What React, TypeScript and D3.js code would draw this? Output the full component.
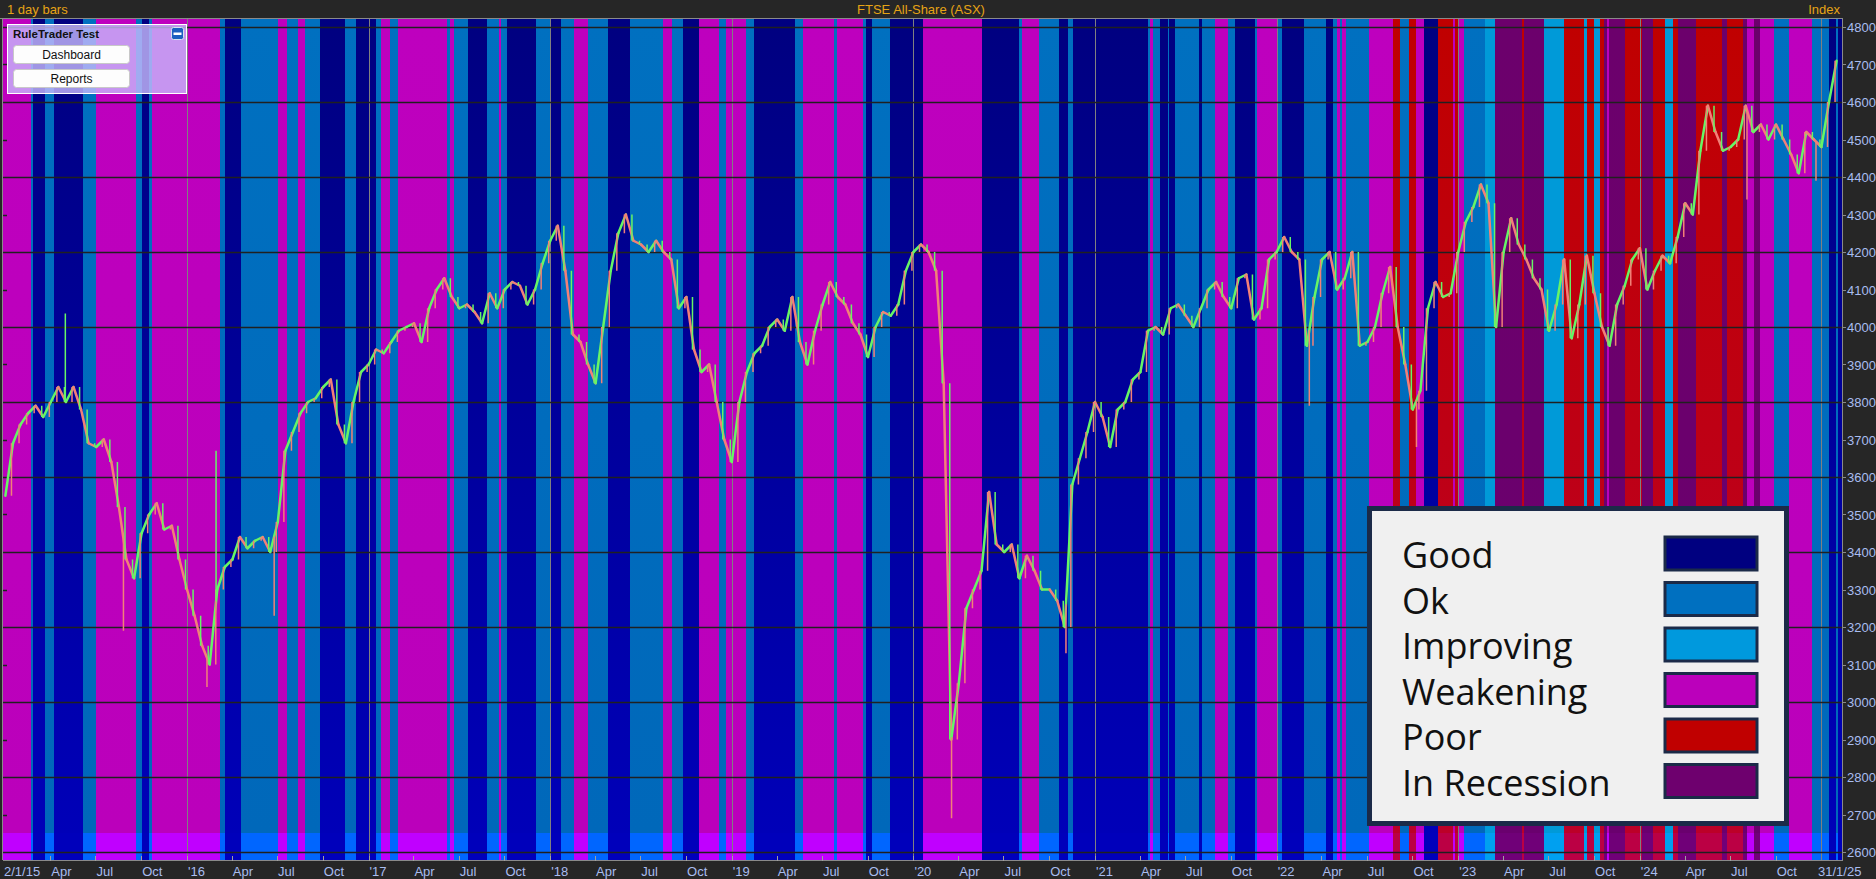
import React, { useEffect, useRef } from 'react';
import * as d3 from 'd3';

type State = 'G' | 'O' | 'I' | 'W' | 'P' | 'R';

// FTSE All-Share closes, two readings a month (1st and 16th)
const price2015 = [3550, 3690, 3740, 3770, 3790, 3760, 3800, 3840, 3800, 3840, 3780, 3690, 3680, 3700, 3640, 3520, 3380, 3330, 3450, 3500, 3530, 3460, 3470, 3380];
const price2016 = [3300, 3230, 3150, 3100, 3300, 3360, 3380, 3440, 3410, 3430, 3440, 3400, 3480, 3670, 3720, 3770, 3800, 3810, 3840, 3860, 3740, 3690, 3800, 3880];
const price2017 = [3900, 3940, 3930, 3960, 3990, 4000, 4010, 3960, 4050, 4100, 4130, 4080, 4050, 4060, 4040, 4010, 4090, 4050, 4100, 4120, 4110, 4060, 4100, 4170];
const price2018 = [4230, 4270, 4150, 3980, 3960, 3900, 3850, 4000, 4150, 4250, 4300, 4230, 4220, 4200, 4230, 4200, 4180, 4050, 4080, 3940, 3880, 3900, 3800, 3700];
const price2019 = [3640, 3800, 3880, 3930, 3950, 4000, 4020, 3990, 4080, 3960, 3900, 3990, 4060, 4120, 4080, 4060, 4010, 3980, 3920, 4000, 4040, 4030, 4060, 4150];
const price2020 = [4200, 4220, 4200, 4150, 3850, 2900, 3050, 3250, 3300, 3350, 3560, 3420, 3400, 3420, 3330, 3390, 3350, 3300, 3300, 3270, 3200, 3580, 3650, 3720];
const price2021 = [3800, 3760, 3680, 3780, 3800, 3860, 3880, 3990, 4000, 3980, 4050, 4060, 4030, 4000, 4050, 4100, 4120, 4080, 4050, 4130, 4140, 4020, 4050, 4180];
const price2022 = [4200, 4240, 4200, 4180, 3950, 4080, 4180, 4200, 4100, 4130, 4200, 3950, 3960, 4000, 4090, 4160, 4000, 3900, 3780, 3830, 4050, 4120, 4080, 4090];
const price2023 = [4200, 4280, 4320, 4380, 4330, 4000, 4200, 4290, 4220, 4180, 4130, 4100, 3990, 4060, 4180, 3970, 4060, 4190, 4090, 4000, 3950, 4060, 4110, 4180];
const price2024 = [4210, 4100, 4150, 4190, 4170, 4240, 4330, 4300, 4470, 4590, 4520, 4470, 4480, 4500, 4590, 4520, 4540, 4500, 4540, 4500, 4460, 4410, 4520, 4500];
const price2025 = [4480, 4600, 4710];

const priceYears: [number, number[]][] = [
  [2015, price2015], [2016, price2016], [2017, price2017], [2018, price2018], [2019, price2019],
  [2020, price2020], [2021, price2021], [2022, price2022], [2023, price2023], [2024, price2024], [2025, price2025],
];

// single days that stick out of the bars (decimal year, value)
const priceSpikes: [number, number][] = [
  [2015.33, 4036], [2015.65, 3190], [2016.11, 3040], [2016.16, 3670], [2016.48, 3230],
  [2020.21, 2690], [2020.84, 3130], [2022.18, 3790], [2022.77, 3680], [2024.59, 4340], [2024.97, 4390],
];

// regime bands: start (decimal year) and state, each one runs until the next start
const regimeBands: [number, State][] = [
  [2015.00, 'W'], [2015.14, 'O'], [2015.15, 'G'], [2015.22, 'O'], [2015.27, 'G'], [2015.43, 'O'], [2015.50, 'W'],
  [2015.72, 'O'], [2015.75, 'G'], [2015.79, 'O'], [2015.81, 'W'],
  [2016.18, 'O'], [2016.21, 'G'], [2016.30, 'O'], [2016.50, 'W'], [2016.55, 'O'], [2016.61, 'W'], [2016.65, 'O'],
  [2016.73, 'G'], [2016.87, 'O'], [2016.93, 'G'],
  [2017.04, 'O'], [2017.07, 'W'], [2017.12, 'O'], [2017.16, 'W'], [2017.43, 'O'], [2017.45, 'W'], [2017.47, 'O'],
  [2017.55, 'G'], [2017.65, 'O'], [2017.72, 'W'], [2017.73, 'O'], [2017.76, 'G'], [2017.92, 'O'],
  [2018.00, 'G'], [2018.06, 'O'], [2018.13, 'W'], [2018.21, 'O'], [2018.32, 'G'], [2018.44, 'O'], [2018.62, 'W'],
  [2018.67, 'O'], [2018.73, 'G'], [2018.82, 'W'], [2018.93, 'O'], [2018.97, 'W'],
  [2019.08, 'O'], [2019.12, 'G'], [2019.35, 'O'], [2019.39, 'W'], [2019.56, 'O'], [2019.58, 'W'], [2019.72, 'O'],
  [2019.74, 'G'], [2019.77, 'O'], [2019.87, 'G'],
  [2020.05, 'W'], [2020.38, 'G'], [2020.58, 'O'], [2020.60, 'W'], [2020.69, 'O'], [2020.80, 'G'], [2020.85, 'O'], [2020.88, 'G'],
  [2021.29, 'O'], [2021.30, 'W'], [2021.32, 'O'], [2021.36, 'G'], [2021.40, 'O'], [2021.41, 'G'], [2021.44, 'O'],
  [2021.57, 'G'], [2021.59, 'O'], [2021.66, 'W'], [2021.73, 'O'], [2021.77, 'G'], [2021.88, 'O'], [2021.89, 'W'],
  [2022.00, 'O'], [2022.03, 'G'], [2022.15, 'O'], [2022.27, 'G'], [2022.31, 'O'], [2022.33, 'W'], [2022.35, 'O'],
  [2022.36, 'W'], [2022.38, 'O'], [2022.51, 'W'], [2022.64, 'P'], [2022.68, 'O'], [2022.73, 'P'], [2022.77, 'W'],
  [2022.81, 'G'], [2022.89, 'P'], [2022.97, 'W'], [2022.98, 'P'],
  [2023.00, 'W'], [2023.03, 'O'], [2023.15, 'I'], [2023.20, 'R'], [2023.35, 'P'], [2023.36, 'R'], [2023.47, 'I'],
  [2023.58, 'P'], [2023.69, 'I'], [2023.71, 'P'], [2023.75, 'I'], [2023.78, 'P'], [2023.80, 'R'], [2023.82, 'W'],
  [2023.83, 'R'], [2023.92, 'P'],
  [2024.01, 'R'], [2024.07, 'P'], [2024.14, 'I'], [2024.18, 'P'], [2024.21, 'R'], [2024.31, 'P'], [2024.45, 'R'],
  [2024.48, 'P'], [2024.57, 'R'], [2024.59, 'W'], [2024.63, 'R'], [2024.66, 'W'], [2024.74, 'O'], [2024.82, 'W'],
  [2024.95, 'O'], [2025.04, 'G'], [2025.08, 'O'], [2025.09, 'G'],
];
const regimeEnd = 2025.1;

const legendLabels = ['Good', 'Ok', 'Improving', 'Weakening', 'Poor', 'In Recession'];
const legendStates: State[] = ['G', 'O', 'I', 'W', 'P', 'R'];

const monthLabels = ['Apr', 'Jul', 'Oct'];
const yearLabels = ["'16", "'17", "'18", "'19", "'20", "'21", "'22", "'23", "'24"];
const firstLabel = '2/1/15';
const lastLabel = '31/1/25';

// band colours, top of the pane to bottom, and the strip along the bottom
const bandTop: Record<State, string> = { G: '#000080', O: '#0070c0', I: '#009ad8', W: '#be00be', P: '#c00000', R: '#6c006c' };
const bandBottom: Record<State, string> = { G: '#0000b8', O: '#0068ba', I: '#009ad8', W: '#bb00bb', P: '#bc0028', R: '#6a006e' };
const stripColor: Record<State, string> = { G: '#0000bb', O: '#0066ff', I: '#00a0f0', W: '#c000ff', P: '#bb0044', R: '#700078' };
const legendColor: Record<State, string> = { G: '#000080', O: '#0070c0', I: '#0099dd', W: '#bb00bb', P: '#c00000', R: '#6e006e' };

const W = 1876;
const H = 879;

const App: React.FC = () => {
  const svgRef = useRef<SVGSVGElement>(null);

  useEffect(() => {
    if (!svgRef.current) return;
    document.body.style.margin = '0';

    const svg = d3.select(svgRef.current);
    svg.selectAll('*').remove();

    const left = 3, right = 1842, top = 19, bottom = 860, stripTop = 833;
    const axisFont = 'Liberation Sans, Arial, sans-serif';
    const axisColor = '#a9bdf0';
    const headColor = '#e6a415';

    const x = d3.scaleLinear().domain([2015, regimeEnd]).range([5.4, 1839.6]);
    const y = d3.scaleLinear().domain([2600, 4800]).range([852, 27]);

    // frame background
    svg.append('rect').attr('width', W).attr('height', H).attr('fill', '#262626');

    const defs = svg.append('defs');
    defs.append('clipPath').attr('id', 'pane')
      .append('rect').attr('x', left).attr('y', top).attr('width', right - left).attr('height', bottom - top);
    (Object.keys(bandTop) as State[]).forEach(s => {
      const grad = defs.append('linearGradient').attr('id', 'band-' + s)
        .attr('gradientUnits', 'userSpaceOnUse')
        .attr('x1', 0).attr('x2', 0).attr('y1', top).attr('y2', stripTop);
      grad.append('stop').attr('offset', 0).attr('stop-color', bandTop[s]);
      grad.append('stop').attr('offset', 1).attr('stop-color', bandBottom[s]);
    });

    const pane = svg.append('g').attr('clip-path', 'url(#pane)');

    // regime bands
    const bands = regimeBands.map(([start, s], i) => ({
      x0: i === 0 ? left : x(start),
      x1: i < regimeBands.length - 1 ? x(regimeBands[i + 1][0]) : right,
      s,
    }));
    pane.append('g').attr('shape-rendering', 'crispEdges')
      .selectAll('rect').data(bands).join('rect')
      .attr('x', d => d.x0).attr('y', top)
      .attr('width', d => Math.max(1, d.x1 - d.x0)).attr('height', stripTop - top)
      .attr('fill', d => `url(#band-${d.s})`);
    pane.append('g').attr('shape-rendering', 'crispEdges')
      .selectAll('rect').data(bands).join('rect')
      .attr('x', d => d.x0).attr('y', stripTop)
      .attr('width', d => Math.max(1, d.x1 - d.x0)).attr('height', bottom - stripTop)
      .attr('fill', d => stripColor[d.s]);

    // year lines
    pane.append('g').selectAll('line').data(d3.range(2016, 2026)).join('line')
      .attr('x1', d => Math.round(x(d)) + 0.5).attr('x2', d => Math.round(x(d)) + 0.5)
      .attr('y1', top).attr('y2', bottom)
      .attr('stroke', '#808080').attr('stroke-width', 1);

    // price grid
    pane.append('g').selectAll('line').data(d3.range(2600, 4801, 200)).join('line')
      .attr('x1', left).attr('x2', right)
      .attr('y1', d => Math.round(y(d)) + 0.5).attr('y2', d => Math.round(y(d)) + 0.5)
      .attr('stroke', '#202020').attr('stroke-width', 1.6);

    // price bars: a vertical bar per reading spanning the move from the last one, joined by the path
    const pts: [number, number][] = [];
    priceYears.forEach(([yr, vals]) => vals.forEach((v, k) => pts.push([yr + k / 24, v])));
    const upColor = '#66f566';
    const downColor = '#f28078';
    const moves = d3.pairs(pts);
    const priceG = pane.append('g');
    priceG.selectAll('line.seg').data(moves).join('line')
      .attr('class', 'seg')
      .attr('x1', d => x(d[0][0])).attr('y1', d => y(d[0][1]))
      .attr('x2', d => x(d[1][0])).attr('y2', d => y(d[1][1]))
      .attr('stroke', d => (d[1][1] >= d[0][1] ? upColor : downColor))
      .attr('stroke-width', 2.5).attr('stroke-linecap', 'round');
    priceG.selectAll('line.bar').data(moves).join('line')
      .attr('class', 'bar')
      .attr('x1', d => x(d[1][0]) - 1.5).attr('x2', d => x(d[1][0]) - 1.5)
      .attr('y1', d => y(d[0][1])).attr('y2', d => y(d[1][1]))
      .attr('stroke', d => (d[1][1] >= d[0][1] ? downColor : upColor))
      .attr('stroke-width', 1.5);

    const bis = d3.bisector((d: [number, number]) => d[0]).right;
    pane.append('g').selectAll('line').data(priceSpikes).join('line')
      .each(function (d) {
        const i = Math.min(Math.max(bis(pts, d[0]), 1), pts.length - 1);
        const a = pts[i - 1], b = pts[i];
        const base = a[1] + (b[1] - a[1]) * (d[0] - a[0]) / (b[0] - a[0]);
        d3.select(this)
          .attr('x1', x(d[0])).attr('x2', x(d[0]))
          .attr('y1', y(base)).attr('y2', y(d[1]))
          .attr('stroke', d[1] > base ? upColor : downColor);
      })
      .attr('stroke-width', 1.5);

    // frame lines
    const frame = svg.append('g').attr('stroke', '#8a8a8a').attr('stroke-width', 1).attr('fill', 'none');
    frame.append('line').attr('x1', 0).attr('x2', right + 0.5).attr('y1', top - 0.5).attr('y2', top - 0.5);
    frame.append('line').attr('x1', left - 0.5).attr('x2', left - 0.5).attr('y1', top).attr('y2', bottom);
    frame.append('line').attr('x1', right + 0.5).attr('x2', right + 0.5).attr('y1', top - 1).attr('y2', bottom + 1);
    frame.append('line').attr('x1', left).attr('x2', right + 1).attr('y1', bottom + 0.5).attr('y2', bottom + 0.5);

    // header
    const head = svg.append('g').attr('font-family', axisFont).attr('font-size', 13).attr('fill', headColor);
    head.append('text').attr('x', 7).attr('y', 14).text('1 day bars');
    head.append('text').attr('x', 921).attr('y', 14).attr('text-anchor', 'middle').text('FTSE All-Share (ASX)');
    head.append('text').attr('x', 1840).attr('y', 14).attr('text-anchor', 'end').text('Index');

    // right axis
    const yAxis = svg.append('g').attr('font-family', axisFont).attr('font-size', 13).attr('fill', axisColor);
    const yTicks = d3.range(2600, 4801, 100);
    yAxis.selectAll('text').data(yTicks).join('text')
      .attr('x', 1847).attr('y', d => y(d) + 5).text(d => String(d));
    svg.append('g').selectAll('line').data(yTicks).join('line')
      .attr('x1', right).attr('x2', right + 4)
      .attr('y1', d => Math.round(y(d)) + 0.5).attr('y2', d => Math.round(y(d)) + 0.5)
      .attr('stroke', '#8a8a8a');
    svg.append('g').selectAll('line').data(d3.range(2700, 4800, 200)).join('line')
      .attr('x1', left).attr('x2', left + 4)
      .attr('y1', d => Math.round(y(d)) + 0.5).attr('y2', d => Math.round(y(d)) + 0.5)
      .attr('stroke', '#202020').attr('stroke-width', 1.5);

    // time axis
    const xTicks: { t: number; label: string }[] = [{ t: 2015.005, label: firstLabel }];
    d3.range(2015, 2025).forEach((yr, i) => {
      if (i > 0) xTicks.push({ t: yr, label: yearLabels[i - 1] });
      [0.247, 0.496, 0.748].forEach((f, j) => xTicks.push({ t: yr + f, label: monthLabels[j] }));
    });
    svg.append('g').selectAll('line').data(xTicks.slice(1)).join('line')
      .attr('x1', d => Math.round(x(d.t)) + 0.5).attr('x2', d => Math.round(x(d.t)) + 0.5)
      .attr('y1', bottom - 4).attr('y2', bottom + 1)
      .attr('stroke', '#a0a0a0');
    const xAxis = svg.append('g').attr('font-family', axisFont).attr('font-size', 13).attr('fill', axisColor);
    xAxis.selectAll('text').data(xTicks).join('text')
      .attr('x', (d, i) => (i === 0 ? 4 : x(d.t) + 1)).attr('y', 876).text(d => d.label);
    xAxis.append('text').attr('x', 1818).attr('y', 876).text(lastLabel);

    // legend box
    const lg = svg.append('g');
    lg.append('rect').attr('x', 1369.5).attr('y', 508.5).attr('width', 417).attr('height', 315)
      .attr('fill', '#f0f0f0').attr('stroke', '#1b2a48').attr('stroke-width', 5);
    legendLabels.forEach((label, i) => {
      const base = 568 + i * 45.5;
      lg.append('text').attr('x', 1402).attr('y', base)
        .attr('font-family', 'Open Sans, sans-serif').attr('font-size', 36).attr('fill', '#111')
        .text(label);
      lg.append('rect').attr('x', 1665).attr('y', base - 31).attr('width', 92).attr('height', 33)
        .attr('fill', legendColor[legendStates[i]]).attr('stroke', '#1b2a48').attr('stroke-width', 3);
    });

    // RuleTrader panel
    const panel = svg.append('g').attr('font-family', axisFont);
    panel.append('rect').attr('x', 7.5).attr('y', 24.5).attr('width', 179).attr('height', 69)
      .attr('fill', 'rgb(200,186,252)').attr('fill-opacity', 0.8).attr('stroke', '#ffffff');
    panel.append('text').attr('x', 13).attr('y', 38).attr('font-size', 11.5).attr('font-weight', 'bold')
      .attr('fill', '#111').text('RuleTrader Test');
    panel.append('rect').attr('x', 171.5).attr('y', 27.5).attr('width', 12).attr('height', 12).attr('rx', 2)
      .attr('fill', '#1c5fc0').attr('stroke', '#d8e0f0');
    panel.append('rect').attr('x', 173.5).attr('y', 32.5).attr('width', 8).attr('height', 2.5).attr('fill', '#ffffff');
    [['Dashboard', 45.5], ['Reports', 69.5]].forEach(([label, top0]) => {
      panel.append('rect').attr('x', 13.5).attr('y', top0 as number).attr('width', 116).attr('height', 18).attr('rx', 3)
        .attr('fill', '#fdfdfd').attr('stroke', '#c8c8c8');
      panel.append('text').attr('x', 71.5).attr('y', (top0 as number) + 13.5).attr('text-anchor', 'middle')
        .attr('font-size', 12).attr('fill', '#111').text(label as string);
    });
  }, []);

  return <svg ref={svgRef} width={W} height={H} style={{ display: 'block' }} />;
};

export default App;
